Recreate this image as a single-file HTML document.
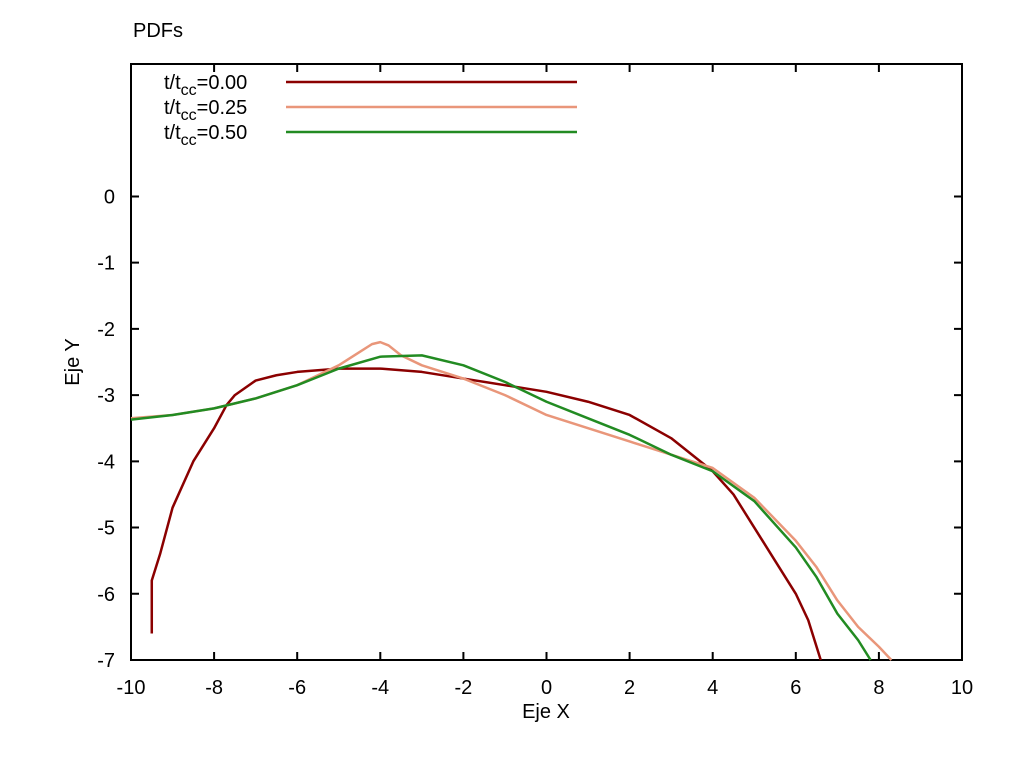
<!DOCTYPE html>
<html><head><meta charset="utf-8"><style>body{margin:0;background:#fff}svg{display:block}text{font-family:"Liberation Sans",sans-serif;font-size:20px;fill:#000}</style></head>
<body>
<svg id="c" width="1024" height="768">
<text x="133" y="37">PDFs</text>
<rect x="131" y="64" width="831" height="596" fill="none" stroke="#000" stroke-width="2"/>
<g id="ticks"></g>
<g id="series"></g>
<text x="546" y="718" text-anchor="middle">Eje X</text>
<text transform="translate(79,362) rotate(-90)" text-anchor="middle">Eje Y</text>
<g id="legend"></g>
</svg>
<script>
const xTicks=[-10,-8,-6,-4,-2,0,2,4,6,8,10];
const yTicks=[-7,-6,-5,-4,-3,-2,-1,0];
const labels=["0.00","0.25","0.50"];
const colors=["#8b0000","#e9967a","#228b22"];
const x0=[-9.5,-9.5,-9.3,-9,-8.5,-8,-7.7,-7.5,-7,-6.5,-6,-5,-4,-3,-2,-1,0,1,2,3,4,4.5,5,5.5,6,6.3,6.5,6.6];
const y0=[-6.6,-5.8,-5.4,-4.7,-4.0,-3.5,-3.15,-3.0,-2.78,-2.7,-2.65,-2.6,-2.6,-2.65,-2.75,-2.85,-2.95,-3.1,-3.3,-3.65,-4.15,-4.5,-5.0,-5.5,-6.0,-6.4,-6.8,-7];
const x1=[-10,-9,-8,-7,-6,-5,-4.5,-4.2,-4,-3.8,-3.5,-3,-2,-1,0,1,2,3,4,5,6,6.5,7,7.5,8,8.3];
const y1=[-3.35,-3.3,-3.2,-3.05,-2.85,-2.55,-2.35,-2.23,-2.2,-2.25,-2.4,-2.55,-2.75,-3.0,-3.3,-3.5,-3.7,-3.9,-4.1,-4.55,-5.2,-5.6,-6.1,-6.5,-6.8,-7];
const x2=[-10,-9,-8,-7,-6,-5,-4,-3,-2,-1,0,1,2,3,4,5,6,6.5,7,7.5,7.8];
const y2=[-3.37,-3.3,-3.2,-3.05,-2.85,-2.6,-2.42,-2.4,-2.55,-2.8,-3.1,-3.35,-3.6,-3.9,-4.15,-4.6,-5.3,-5.75,-6.3,-6.7,-7];
const xs=[x0,x1,x2], ys=[y0,y1,y2];
const NS="http://www.w3.org/2000/svg";
const X=v=>131+(v+10)*831/20, Y=v=>660-(v+7)*596/9;
function mk(t,a,p){const e=document.createElementNS(NS,t);for(const k in a)e.setAttribute(k,a[k]);p.appendChild(e);return e;}
const tg=document.getElementById('ticks');
xTicks.forEach(v=>{const x=X(v);
 const l=mk('path',{d:`M${x},660v-8M${x},64v8`,stroke:'#000','stroke-width':2},tg);
 
 
 const t=mk('text',{x:x,y:694,'text-anchor':'middle'},tg);t.textContent=v;
 
 });
yTicks.forEach(v=>{const y=Y(v);
 const l=mk('path',{d:`M131,${y}h8M962,${y}h-8`,stroke:'#000','stroke-width':2},tg);
 
 
 const t=mk('text',{x:115,y:y+7,'text-anchor':'end'},tg);t.textContent=v;
 
 });
const sg=document.getElementById('series'), lg=document.getElementById('legend');
xs.forEach((xa,i)=>{
 const p=mk('polyline',{points:xa.map((v,j)=>X(v)+','+Y(ys[i][j])).join(' '),fill:'none',stroke:colors[i],'stroke-width':2.5,'stroke-linejoin':'round'},sg);
 
 
 const ly=82+i*25;
 const t=mk('text',{x:164,y:ly+7},lg);
 t.innerHTML='t/t<tspan dy="6" font-size="16">cc</tspan><tspan dy="-6">='+labels[i]+'</tspan>';
 
 
 const s=mk('line',{x1:286,x2:577,y1:ly,y2:ly,stroke:colors[i],'stroke-width':2.5},lg);
 
 
});
</script>
</body></html>
